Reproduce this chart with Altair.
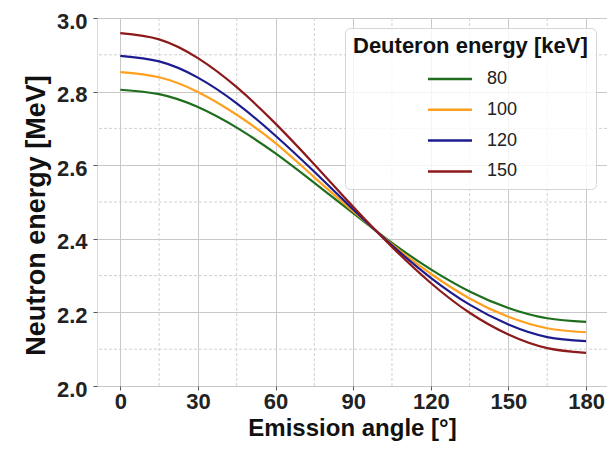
import altair as alt
import pandas as pd

# Emission angle [deg] and neutron energy [MeV]
angles = [0, 15, 30, 45, 60, 75, 90, 105, 120, 135, 150, 165, 180]
e80 = [2.805, 2.793, 2.758, 2.702, 2.632, 2.552, 2.470, 2.389, 2.317, 2.257, 2.212, 2.184, 2.174]
e100 = [2.853, 2.839, 2.799, 2.737, 2.660, 2.567, 2.475, 2.385, 2.305, 2.238, 2.188, 2.157, 2.146]
e120 = [2.897, 2.882, 2.838, 2.768, 2.680, 2.582, 2.480, 2.382, 2.294, 2.221, 2.167, 2.133, 2.122]
e150 = [2.959, 2.942, 2.891, 2.812, 2.713, 2.602, 2.487, 2.378, 2.280, 2.199, 2.140, 2.103, 2.090]

series = ["80", "100", "120", "150"]
colors = ["#1e6e1e", "#ffa01e", "#1c1c8f", "#8c1a1a"]

x_ticks = [0, 30, 60, 90, 120, 150, 180]
y_ticks = [2.0, 2.2, 2.4, 2.6, 2.8, 3.0]
minor_x = [15, 45, 75, 105, 135, 165]
minor_y = [2.1, 2.3, 2.5, 2.7, 2.9]

rows = []
for name, vals in zip(series, [e80, e100, e120, e150]):
    for a, v in zip(angles, vals):
        rows.append({"angle": a, "energy": v, "Ed": name})
df = pd.DataFrame(rows)
dfx = pd.DataFrame({"angle": minor_x})
dfy = pd.DataFrame({"energy": minor_y})

FONT = "Liberation Sans"

xscale = alt.Scale(domain=[-9, 188.1], nice=False, zero=False)
yscale = alt.Scale(domain=[2.0, 3.0], nice=False, zero=False)

xaxis = alt.Axis(
    values=x_ticks, format="d", title="Emission angle [°]",
    grid=True, gridColor="#c8c8c8", gridWidth=1,
    domain=False, ticks=True, tickSize=4, tickColor="#555",
    labelFont=FONT, labelFontSize=22, labelFontWeight="bold", labelColor="#222",
    labelPadding=1.5,
    titleFont=FONT, titleFontSize=24, titleFontWeight="bold", titleColor="#111",
    titleY=49.5, titleBaseline="alphabetic",
)
yaxis = alt.Axis(
    values=y_ticks, format=".1f", title="Neutron energy [MeV]",
    grid=True, gridColor="#c8c8c8", gridWidth=1,
    domain=False, ticks=True, tickSize=4, tickColor="#555",
    labelFont=FONT, labelFontSize=22, labelFontWeight="bold", labelColor="#222",
    labelPadding=6, labelOffset=3,
    titleFont=FONT, titleFontSize=27, titleFontWeight="bold", titleColor="#111",
    titleX=-53, titleY=197, titleBaseline="alphabetic",
)

X = alt.X("angle:Q", scale=xscale, axis=xaxis)
Y = alt.Y("energy:Q", scale=yscale, axis=yaxis)

vgrid = alt.Chart(dfx).mark_rule(color="#d0d0d0", strokeWidth=1, strokeDash=[3, 2]).encode(x=X)
hgrid = alt.Chart(dfy).mark_rule(color="#d0d0d0", strokeWidth=1, strokeDash=[3, 2]).encode(y=Y)

legend = alt.Legend(
    title="Deuteron energy [keV]", orient="none", legendX=248, legendY=10,
    fillColor="rgba(255,255,255,0.8)", strokeColor="#d6d6d6", cornerRadius=5,
    padding=8, titleFont=FONT, titleFontSize=22, titleFontWeight="bold",
    titleColor="#111", titleLimit=400, titlePadding=12,
    labelFont=FONT, labelFontSize=18, labelColor="#222", labelAlign="left",
    symbolType="M-3,0H3", symbolSize=215, symbolStrokeWidth=2.5,
    symbolOffset=88, labelOffset=28, rowPadding=12.8,
)

lines = alt.Chart(df).mark_line(strokeWidth=2.2, interpolate="natural", clip=True).encode(
    x=X, y=Y,
    color=alt.Color("Ed:N", scale=alt.Scale(domain=series, range=colors), legend=legend),
)

chart = alt.layer(vgrid, hgrid, lines).properties(
    width=510, height=368,
    autosize=alt.AutoSizeParams(type="none"),
    padding={"left": 89, "top": 10, "right": 0, "bottom": 55},
).configure_view(stroke="#555", strokeWidth=1.2).configure(background="white")

chart.save("out.html", embed_options={"renderer": "svg", "actions": False})
